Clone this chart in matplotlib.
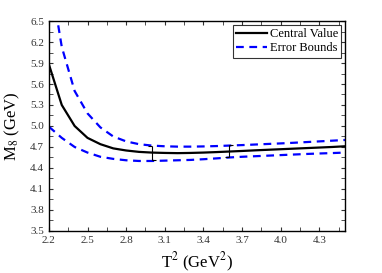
import matplotlib
matplotlib.use("Agg")
import matplotlib.pyplot as plt
from matplotlib.ticker import FixedLocator

plt.rcParams['font.family'] = ['Liberation Serif', 'DejaVu Serif']
plt.rcParams['mathtext.fontset'] = 'stix'

# T^2 values (GeV^2)
T2 = [2.2, 2.3, 2.4, 2.5, 2.6, 2.7, 2.8, 2.9, 3.0, 3.1, 3.2, 3.3, 3.4, 3.5,
      3.6, 3.7, 3.8, 3.9, 4.0, 4.1, 4.2, 4.3, 4.4, 4.5]
central = [5.88, 5.30, 5.00, 4.83, 4.74, 4.68, 4.65, 4.63, 4.62, 4.615, 4.612, 4.615, 4.62, 4.627,
           4.635, 4.643, 4.652, 4.66, 4.668, 4.676, 4.684, 4.692, 4.70, 4.71]
upper = [7.25, 6.13, 5.50, 5.18, 4.98, 4.85, 4.78, 4.74, 4.72, 4.71, 4.705, 4.705, 4.708, 4.713,
         4.72, 4.727, 4.735, 4.743, 4.751, 4.76, 4.77, 4.78, 4.79, 4.80]
lower = [4.99, 4.83, 4.70, 4.62, 4.56, 4.53, 4.51, 4.50, 4.50, 4.505, 4.51, 4.515, 4.525, 4.537,
         4.55, 4.56, 4.568, 4.576, 4.584, 4.592, 4.60, 4.607, 4.613, 4.62]

# window markers
win_x = [3.0, 3.6]
win_lo = [4.51, 4.55]
win_hi = [4.72, 4.73]

xticks = [2.2, 2.5, 2.8, 3.1, 3.4, 3.7, 4.0, 4.3]
yticks = [3.5, 3.8, 4.1, 4.4, 4.7, 5.0, 5.3, 5.6, 5.9, 6.2, 6.5]

fig = plt.figure(figsize=(3.82, 2.73), dpi=100)
ax = fig.add_axes([0.128, 0.154, 0.775, 0.769])

ax.plot(T2, central, color='black', lw=1.6, label='Central Value')
ax.plot(T2, upper, color='blue', lw=1.6, ls=(0, (3.5, 2.5)), label='Error Bounds')
ax.plot(T2, lower, color='blue', lw=1.6, ls=(0, (3.5, 2.5)))

ax.vlines(win_x, win_lo, win_hi, color='black', lw=0.8)
ax.hlines([win_hi[0], win_lo[0]], [2.97, 3.0], [3.0, 3.03], color='black', lw=0.8)
ax.hlines([win_hi[1], win_lo[1]], [3.6, 3.57], [3.63, 3.6], color='black', lw=0.8)

ax.set_xlim(2.2, 4.5)
ax.set_ylim(3.5, 6.5)
ax.xaxis.set_major_locator(FixedLocator(xticks))
ax.yaxis.set_major_locator(FixedLocator(yticks))
ax.xaxis.set_minor_locator(FixedLocator([t + 0.15 for t in xticks]))
ax.yaxis.set_minor_locator(FixedLocator([t + 0.15 for t in yticks[:-1]]))
ax.xaxis.set_major_formatter(plt.FormatStrFormatter('%.1f'))
ax.yaxis.set_major_formatter(plt.FormatStrFormatter('%.1f'))
ax.tick_params(which='both', direction='in', top=True, right=True, labelsize=8, colors='#333333')
ax.tick_params(which='major', length=3)
ax.tick_params(which='minor', length=3)
for s in ax.spines.values():
    s.set_linewidth(1.0)

ax.set_xlabel('T$^2$ (GeV$^2$)', fontsize=12, labelpad=4)
ax.set_ylabel('M$_8$ (GeV)', fontsize=12, labelpad=6)

leg = ax.legend(loc='upper right', fontsize=9, frameon=True, fancybox=False,
                edgecolor='black', handlelength=2.5, handletextpad=0.2,
                borderpad=0.25, labelspacing=0.2, borderaxespad=0.3)
leg.get_frame().set_linewidth(0.8)

fig.savefig('out.png', dpi=100)
